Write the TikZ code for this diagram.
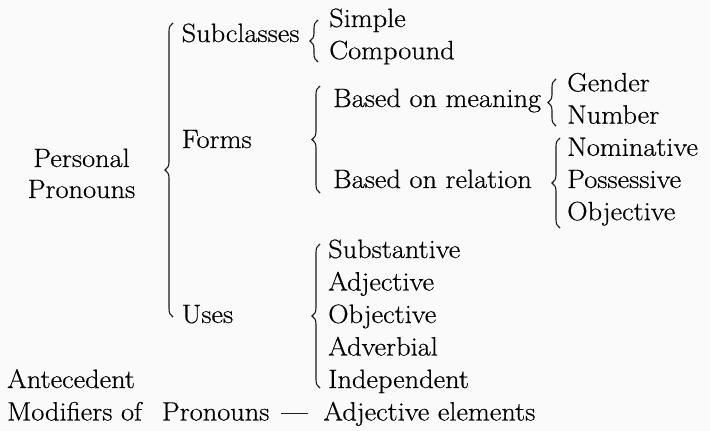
\documentclass[tikz,border=0pt]{standalone}
\usepackage{fontspec}
\setmainfont{Latin Modern Roman}[FakeStretch=1.07,FakeBold=0.5]
\usetikzlibrary{decorations.pathreplacing}
\begin{document}
\begin{tikzpicture}[x=1pt,y=-1pt,
  txt/.style={anchor=base west,inner sep=0pt,font=\fontsize{26.5}{32}\selectfont,text=black},
  ctxt/.style={txt,anchor=base},
  bracestyle/.style={line width=1.1pt,black!90,decorate,decoration={brace,amplitude=8pt}}]
\fill[black!2] (0,0) rectangle (710,431);
\useasboundingbox (0,0) rectangle (710,431);
% column 1
\node[ctxt] (personal) at (81.5,167) {Personal};
\node[ctxt] (pronouns) at (81.5,198) {Pronouns};
\node[txt] (antecedent) at (7,388) {Antecedent};
\node[txt] (modifiers) at (7,420.5) {Modifiers of\hspace{20pt}Pronouns\hspace{12pt}---\hspace{16pt}Adjective elements};
% column 2
\node[txt] (subclasses) at (181.5,42) {Subclasses};
\node[txt] (forms) at (181.5,148) {Forms};
\node[txt] (uses) at (181.5,323) {Uses};
% column 3
\node[txt] (simple) at (329,27) {Simple};
\node[txt] (compound) at (329,59.2) {Compound};
\node[txt] (meaning) at (333,107) {Based on meaning};
\node[txt] (relation) at (333,188) {Based on relation};
\node[txt] (substantive) at (328,258) {Substantive};
\node[txt] (adjective) at (328,290.5) {Adjective};
\node[txt] (objective2) at (328,323) {Objective};
\node[txt] (adverbial) at (328,355.5) {Adverbial};
\node[txt] (independent) at (328,388) {Independent};
% column 4
\node[txt] (gender) at (567,91.4) {Gender};
\node[txt] (number) at (567,123.6) {Number};
\node[txt] (nominative) at (567,155.8) {Nominative};
\node[txt] (possessive) at (567,188) {Possessive};
\node[txt] (objective1) at (567,220.2) {Objective};
% brace end points
\coordinate (mainT) at (173,23);  \coordinate (mainB) at (173,317);
\coordinate (subT) at (318,20);   \coordinate (subB) at (318,62);
\coordinate (formT) at (320,86);  \coordinate (formB) at (320,193);
\coordinate (meanT) at (556,79);  \coordinate (meanB) at (556,126);
\coordinate (relT) at (560,138);  \coordinate (relB) at (560,228);
\coordinate (useT) at (320,244);  \coordinate (useB) at (320,388);
% braces
\draw[bracestyle] (mainB) -- (mainT);
\draw[bracestyle] (subB) -- (subT);
\draw[bracestyle] (formB) -- (formT);
\draw[bracestyle] (meanB) -- (meanT);
\draw[bracestyle] (relB) -- (relT);
\draw[bracestyle] (useB) -- (useT);
\end{tikzpicture}
\end{document}
